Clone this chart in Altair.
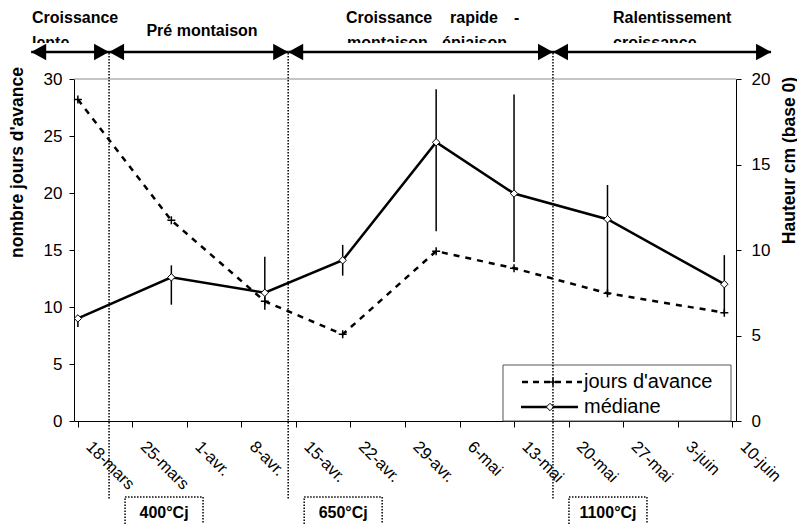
import json
import altair as alt
import pandas as pd

# ---------------- data ----------------
dates = ["2003-03-18", "2003-03-30", "2003-04-11", "2003-04-21",
         "2003-05-03", "2003-05-13", "2003-05-25", "2003-06-09"]
jours_avance = [28.2, 17.6, 10.5, 7.6, 14.9, 13.4, 11.2, 9.5]
mediane = [6.0, 8.4, 7.5, 9.4, 16.3, 13.3, 11.8, 8.0]
mediane_bas = [5.5, 6.8, 6.5, 8.5, 11.1, 9.3, 7.4, 6.3]
mediane_haut = [6.2, 9.1, 9.6, 10.3, 19.4, 19.1, 13.8, 9.7]

tick_dates = ["2003-03-18", "2003-03-25", "2003-04-01", "2003-04-08",
              "2003-04-15", "2003-04-22", "2003-04-29", "2003-05-06",
              "2003-05-13", "2003-05-20", "2003-05-27", "2003-06-03",
              "2003-06-10"]
mois_fr = ["janv.", "févr.", "mars", "avr.", "mai", "juin",
           "juil.", "août", "sept.", "oct.", "nov.", "déc."]

seuils_dates = ["2003-03-22", "2003-04-14", "2003-05-18"]
seuils_labels = ["400°Cj", "650°Cj", "1100°Cj"]

phase_bornes = ["2003-03-12", "2003-03-22", "2003-04-14", "2003-05-18", "2003-06-15"]

# ---------------- tables ----------------
df = pd.DataFrame({"date": dates, "jours": jours_avance, "med": mediane,
                   "bas": mediane_bas, "haut": mediane_haut})
seuils = pd.DataFrame({"date": seuils_dates, "label": seuils_labels})
phases = pd.DataFrame({"start": phase_bornes[:-1], "end": phase_bornes[1:]})
one = pd.DataFrame({"k": [0]})

FONT = "Liberation Sans"


def dt(s, hours=0):
    return alt.DateTime(year=int(s[:4]), month=int(s[5:7]), date=int(s[8:10]),
                        hours=hours, utc=True)


xscale = alt.Scale(type="utc", domain=[dt("2003-03-17", 12), dt("2003-06-10", 12)])
label_expr = ("utcdate(datum.value) + '-' + " + json.dumps(mois_fr, ensure_ascii=False)
              + "[utcmonth(datum.value)]")
xaxis = alt.Axis(values=[dt(s) for s in tick_dates], labelExpr=label_expr,
                 labelAngle=45, labelAlign="left", labelBaseline="top",
                 labelOffset=16, labelPadding=11, tickSize=6, labelFontSize=16.5,
                 labelFlush=False, labelOverlap=False, grid=False, title=None)


def X(field):
    return alt.X(field, type="temporal", scale=xscale, axis=xaxis)


lscale = alt.Scale(domain=[0, 30])
laxis = alt.Axis(orient="left", values=[0, 5, 10, 15, 20, 25, 30], tickSize=5,
                 labelPadding=7, labelFontSize=17, grid=False,
                 title="nombre jours d'avance", titleFontSize=17.5, titleFontWeight="bold",
                 titleX=-48, titleY=83)
rscale = alt.Scale(domain=[0, 20])
raxis = alt.Axis(orient="right", values=[0, 5, 10, 15, 20], tickSize=5,
                 labelPadding=10, labelFontSize=17, grid=False,
                 title="Hauteur cm (base 0)", titleFontSize=17.5, titleFontWeight="bold",
                 titleAngle=270, titleBaseline="bottom", titleX=62, titleY=81)


def YL(field):
    return alt.Y(field, type="quantitative", scale=lscale, axis=laxis)


def YR(field):
    return alt.Y(field, type="quantitative", scale=rscale, axis=raxis)


PLUS = "M -1 0 L 1 0 M 0 -1 L 0 1"
base = alt.Chart(df)

# ---------------- left axis group ----------------
top_rule = alt.Chart(one).mark_rule(color="#8c8c8c", strokeWidth=1).encode(
    y=alt.Y(datum=30, type="quantitative", scale=lscale, axis=laxis))
jours_line = base.mark_line(color="black", strokeWidth=2.5, strokeDash=[6, 6]).encode(
    x=X("date"), y=YL("jours"))
jours_pts = base.mark_point(shape=PLUS, filled=False, color="black", strokeWidth=1.5,
                            size=64, opacity=1).encode(x=X("date"), y=YL("jours"))
left = alt.layer(top_rule, jours_line, jours_pts)

# ---------------- right axis group ----------------
err = base.mark_rule(color="black", strokeWidth=1.5).encode(
    x=X("date"), y=YR("bas"), y2="haut:Q")
med_line = base.mark_line(color="black", strokeWidth=2.5).encode(x=X("date"), y=YR("med"))
med_pts = base.mark_point(shape="diamond", filled=True, fill="white", stroke="black",
                          strokeWidth=1, size=55, opacity=1).encode(x=X("date"), y=YR("med"))
right = alt.layer(err, med_line, med_pts)

# ---------------- legend ----------------
leg_box = alt.Chart(one).mark_rect(fill="white", stroke="#555555", strokeWidth=1).encode(
    x=alt.value(429), x2=alt.value(657), y=alt.value(286), y2=alt.value(342))
leg_l1 = alt.Chart(one).mark_rule(color="black", strokeWidth=2.5, strokeDash=[6, 5]).encode(
    x=alt.value(448), x2=alt.value(508), y=alt.value(303))
leg_p1 = alt.Chart(one).mark_point(shape=PLUS, filled=False, color="black", strokeWidth=1.5,
                                   size=64, opacity=1).encode(x=alt.value(479), y=alt.value(303))
leg_l2 = alt.Chart(one).mark_rule(color="black", strokeWidth=2.5).encode(
    x=alt.value(447), x2=alt.value(504), y=alt.value(328))
leg_p2 = alt.Chart(one).mark_point(shape="diamond", filled=True, fill="white", stroke="black",
                                   strokeWidth=1, size=55, opacity=1).encode(
    x=alt.value(476), y=alt.value(328))


def leg_txt(s, y):
    return alt.Chart(one).mark_text(text=s, align="left", baseline="alphabetic", font=FONT,
                                    fontSize=20, color="black").encode(
        x=alt.value(510), y=alt.value(y))


legend = [leg_box, leg_l1, leg_p1, leg_l2, leg_p2,
          leg_txt("jours d'avance", 309), leg_txt("médiane", 334)]

# ---------------- thresholds ----------------
vlines = alt.Chart(seuils).mark_rule(color="black", strokeWidth=1.5, strokeDash=[1.5, 1.5]).encode(
    x=X("date"), y=alt.value(-26), y2=alt.value(421))
boxes = alt.Chart(seuils).mark_rect(fill="white", stroke="black", strokeWidth=1.5,
                                    strokeDash=[1.5, 1.5], xOffset=16, x2Offset=94).encode(
    x=X("date"), x2=alt.X2("date"), y=alt.value(418), y2=alt.value(448))
box_txt = alt.Chart(seuils).mark_text(font=FONT, fontSize=16, fontWeight="bold", color="black",
                                      align="center", baseline="alphabetic", dx=55).encode(
    x=X("date"), y=alt.value(439), text="label:N")

# ---------------- phases (top) ----------------


def top_txt(s, x, y, align="left"):
    return alt.Chart(one).mark_text(text=s, align=align, baseline="alphabetic", font=FONT,
                                    fontSize=16, fontWeight="bold", color="black").encode(
        x=alt.value(x), y=alt.value(y))


texts = [
    top_txt("Croissance", -42, -56), top_txt("lente", -42, -31),
    top_txt("Pré montaison", 128, -43, "center"),
    top_txt("Croissance", 272, -56), top_txt("rapide", 376, -56), top_txt("-", 440, -56),
    top_txt("montaison - épiaison", 273, -31),
    top_txt("Ralentissement", 539, -56), top_txt("croissance", 539, -31),
]
band = alt.Chart(one).mark_rect(fill="white").encode(
    x=alt.value(-49), x2=alt.value(706), y=alt.value(-36), y2=alt.value(-28))

shaft = alt.Chart(phases).mark_rule(color="black", strokeWidth=2.5).encode(
    x=X("start"), x2=alt.X2("end"), y=alt.value(-27))
head_r = alt.Chart(phases).mark_point(shape="M 1 0 L -1 -1.1 L -1 1.1 Z", filled=True,
                                      color="black", size=225, opacity=1, xOffset=-7.5).encode(
    x=X("end"), y=alt.value(-27))
head_l = alt.Chart(phases).mark_point(shape="M -1 0 L 1 -1.1 L 1 1.1 Z", filled=True,
                                      color="black", size=225, opacity=1, xOffset=7.5).encode(
    x=X("start"), y=alt.value(-27))

chart = alt.layer(
    left, right, *legend, vlines, boxes, box_txt, *texts, band, shaft, head_r, head_l
).resolve_scale(y="independent").properties(
    width=662, height=342,
    padding={"left": 66, "top": 71, "right": 61, "bottom": 103},
    autosize=alt.AutoSizeParams(type="none"),
).configure_view(stroke=None).configure_axis(
    labelFont=FONT, titleFont=FONT, labelColor="black", titleColor="black",
    domainColor="black", tickColor="black", domainWidth=1, tickWidth=1,
)

chart.save("out.html", embed_options={"renderer": "svg", "actions": False})
